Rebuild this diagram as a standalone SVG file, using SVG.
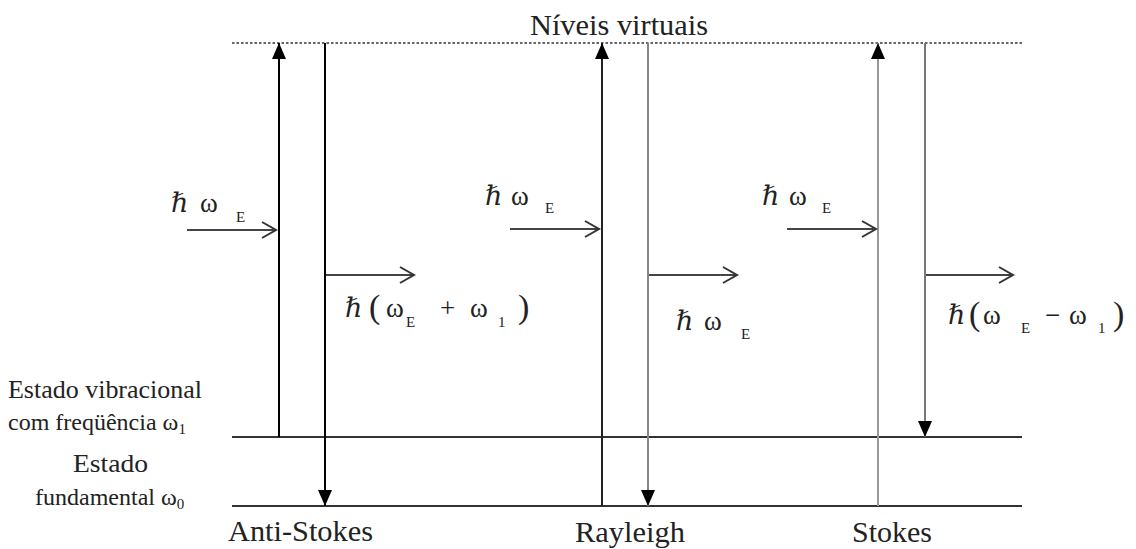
<svg xmlns="http://www.w3.org/2000/svg" width="1136" height="549" viewBox="0 0 1136 549" font-family="'Liberation Serif', 'Times New Roman', Times, serif">
<style>
text{font-family:'Liberation Serif','Times New Roman',Times,serif;fill:#222}
.lbl{font-size:25px}
.lbl2{font-size:24px}
.big{font-size:30px}
.m{font-size:27px}
.mi{font-size:27px;font-style:italic;font-family:'DejaVu Serif','Liberation Serif',serif}
.sub{font-size:15px}
.par{font-size:34px}
.lev{stroke:#333;stroke-width:2;fill:none}
.v{stroke-width:2;fill:none}
.h{stroke:#444;stroke-width:2;fill:none;marker-end:url(#open)}
</style>
<defs>
<marker id="fill" markerUnits="userSpaceOnUse" markerWidth="17" markerHeight="14" refX="16" refY="7" orient="auto" viewBox="0 0 17 14">
<path d="M0,0 L16,7 L0,14 z" fill="#000"/>
</marker>
<marker id="open" markerUnits="userSpaceOnUse" markerWidth="18" markerHeight="20" refX="15" refY="9" orient="auto" viewBox="0 0 18 20">
<path d="M1,1 L15,9 L1,17" fill="none" stroke="#333" stroke-width="2"/>
</marker>
</defs>

<g id="levels">
<line x1="232" y1="43" x2="1022" y2="43" stroke="#333" stroke-width="1.6" stroke-dasharray="2.5,2"/>
<line class="lev" x1="232" y1="437" x2="1022" y2="437"/>
<line class="lev" x1="232" y1="506" x2="1022" y2="506"/>
<text class="big" x="530" y="35" textLength="178" lengthAdjust="spacingAndGlyphs">Níveis virtuais</text>
</g>

<g id="level-labels">
<text class="lbl" x="8" y="398" textLength="194" lengthAdjust="spacingAndGlyphs">Estado vibracional</text>
<text class="lbl2" x="8" y="430">com freqüência ω<tspan class="sub" dy="4">1</tspan></text>
<text class="lbl" x="73" y="472" textLength="75" lengthAdjust="spacingAndGlyphs">Estado</text>
<text class="lbl2" x="35" y="505">fundamental ω<tspan class="sub" dy="4">0</tspan></text>
</g>

<g id="anti-stokes">
<text class="big" x="228" y="541" textLength="145" lengthAdjust="spacingAndGlyphs">Anti-Stokes</text>
<text class="mi" x="171" y="212">ℏ</text>
<text class="m" x="200" y="212">ω</text>
<text class="sub" x="236" y="222">E</text>
<text class="mi" x="345" y="317">ℏ</text>
<text class="par" x="369" y="318">(</text>
<text class="m" x="386" y="317">ω</text>
<text class="sub" x="406" y="327">E</text>
<text class="m" x="440" y="317">+</text>
<text class="m" x="470" y="317">ω</text>
<text class="sub" x="498" y="327">1</text>
<text class="par" x="518" y="318">)</text>
</g>

<g id="rayleigh">
<text class="big" x="575" y="542" textLength="110" lengthAdjust="spacingAndGlyphs">Rayleigh</text>
<text class="mi" x="485" y="205">ℏ</text>
<text class="m" x="511" y="205">ω</text>
<text class="sub" x="545" y="213">E</text>
<text class="mi" x="676" y="330">ℏ</text>
<text class="m" x="704" y="330">ω</text>
<text class="sub" x="741" y="339">E</text>
</g>

<g id="stokes">
<text class="big" x="852" y="542" textLength="80" lengthAdjust="spacingAndGlyphs">Stokes</text>
<text class="mi" x="762" y="205">ℏ</text>
<text class="m" x="789" y="205">ω</text>
<text class="sub" x="822" y="213">E</text>
<text class="mi" x="948" y="324">ℏ</text>
<text class="par" x="969" y="325">(</text>
<text class="m" x="983" y="324">ω</text>
<text class="sub" x="1021" y="333">E</text>
<text class="m" x="1045" y="324">−</text>
<text class="m" x="1069" y="324">ω</text>
<text class="sub" x="1098" y="333">1</text>
<text class="par" x="1113" y="325">)</text>
</g>

<g id="connectors">
<line class="v" stroke="#000" x1="279" y1="437" x2="279" y2="43" marker-end="url(#fill)"/>
<line class="v" stroke="#000" x1="325" y1="43" x2="325" y2="506" marker-end="url(#fill)"/>
<line class="v" stroke="#222" x1="602" y1="506" x2="602" y2="43" marker-end="url(#fill)"/>
<line class="v" stroke="#888" x1="648" y1="43" x2="648" y2="506" marker-end="url(#fill)"/>
<line class="v" stroke="#999" x1="878" y1="506" x2="878" y2="43" marker-end="url(#fill)"/>
<line class="v" stroke="#777" x1="925" y1="43" x2="925" y2="437" marker-end="url(#fill)"/>
<line class="h" x1="187" y1="230" x2="276" y2="230"/>
<line class="h" x1="510" y1="229" x2="599" y2="229"/>
<line class="h" x1="787" y1="229" x2="876" y2="229"/>
<line class="h" x1="326" y1="275" x2="414" y2="275"/>
<line class="h" x1="649" y1="275" x2="737" y2="275"/>
<line class="h" x1="926" y1="275" x2="1013" y2="275"/>
</g>
</svg>
